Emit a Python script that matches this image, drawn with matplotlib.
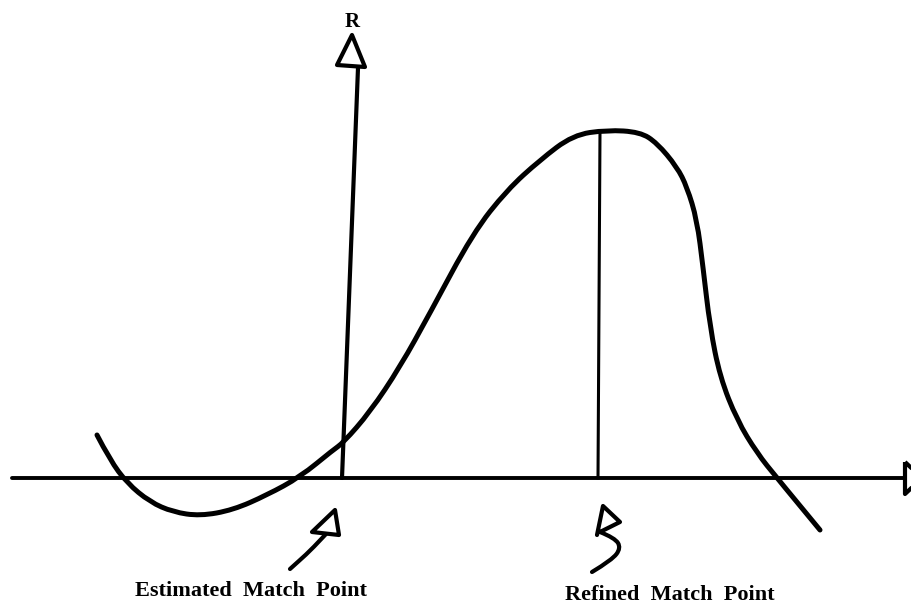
import numpy as np
import matplotlib
matplotlib.use("Agg")
import matplotlib.pyplot as plt
from matplotlib.path import Path
from matplotlib.patches import PathPatch

# hand-drawn sketch, coordinates (pixels, y downwards)
curve_x = [97, 110, 127, 150, 173, 200, 233, 267, 300, 333, 343, 370, 400, 430,
           473, 507, 540, 573, 607, 640, 657, 677, 687, 697, 703, 710, 720, 737,
           757, 777, 820]
curve_y = [435, 460, 483, 502, 512, 516, 510, 495, 477, 450, 443, 412, 367, 313,
           233, 190, 160, 135, 130, 132, 143, 167, 187, 220, 267, 327, 377, 420,
           453, 478, 530]

h_axis_x = [12, 905]
h_axis_y = [478, 478]
v_axis_x = [342, 358]
v_axis_y = [478, 68]
refined_x = [598, 600]
refined_y = [478, 131]

r_head = [(337, 65), (352, 35), (365, 67)]
x_head = [(905, 462), (922, 478), (905, 494)]

est_head = [(335, 510), (312, 532), (339, 535)]
est_tail_x = [326, 312, 300, 290]
est_tail_y = [534, 549, 560, 569]

ref_head_x = [597, 603, 620, 600]
ref_head_y = [535, 506, 522, 532]
ref_tail_x = [600, 615, 621, 612, 592]
ref_tail_y = [532, 538, 548, 560, 572]

labels = ["Estimated  Match  Point", "Refined  Match  Point"]
label_pos = [(135, 596), (565, 600)]


def smooth_path(xs, ys):
    # quadratic bezier through midpoints of the traced points
    pts = np.column_stack([xs, ys]).astype(float)
    verts = [pts[0]]
    codes = [Path.MOVETO]
    for i in range(1, len(pts) - 1):
        mid = (pts[i] + pts[i + 1]) / 2
        if i == len(pts) - 2:
            mid = pts[i + 1]
        verts += [pts[i], mid]
        codes += [Path.CURVE3, Path.CURVE3]
    return Path(verts, codes)


fig = plt.figure(figsize=(9.12, 6.08), dpi=100)
ax = fig.add_axes([0, 0, 1, 1])
ax.set_xlim(0, 912)
ax.set_ylim(608, 0)
ax.axis("off")

ink = "black"
ax.add_patch(PathPatch(smooth_path(curve_x, curve_y), fill=False, lw=3.6,
                       ec=ink, capstyle="round", joinstyle="round"))

ax.plot(h_axis_x, h_axis_y, color=ink, lw=2.8, solid_capstyle="round")
ax.plot(v_axis_x, v_axis_y, color=ink, lw=3.0, solid_capstyle="round")
ax.plot(refined_x, refined_y, color=ink, lw=2.2)

ax.add_patch(plt.Polygon(r_head, closed=True, fill=False, ec=ink, lw=3.0,
                         joinstyle="round"))
ax.add_patch(plt.Polygon(x_head, closed=True, fill=False, ec=ink, lw=3.0,
                         joinstyle="round", clip_on=True))

ax.add_patch(plt.Polygon(est_head, closed=True, fill=False, ec=ink, lw=3.0,
                         joinstyle="round"))
ax.add_patch(PathPatch(smooth_path(est_tail_x, est_tail_y), fill=False, lw=3.0,
                       ec=ink, capstyle="round"))

ax.plot(ref_head_x, ref_head_y, color=ink, lw=3.0, solid_joinstyle="round",
        solid_capstyle="round")
ax.add_patch(PathPatch(smooth_path(ref_tail_x, ref_tail_y), fill=False, lw=3.0,
                       ec=ink, capstyle="round"))

ax.text(352, 22, "R", ha="center", va="center", fontsize=15,
        fontweight="bold", family="Liberation Serif")
for txt, (tx, ty) in zip(labels, label_pos):
    ax.text(tx, ty, txt, ha="left", va="baseline", fontsize=16,
            fontweight="bold", family="Liberation Serif")

fig.savefig("out.png", dpi=100, facecolor="white")
